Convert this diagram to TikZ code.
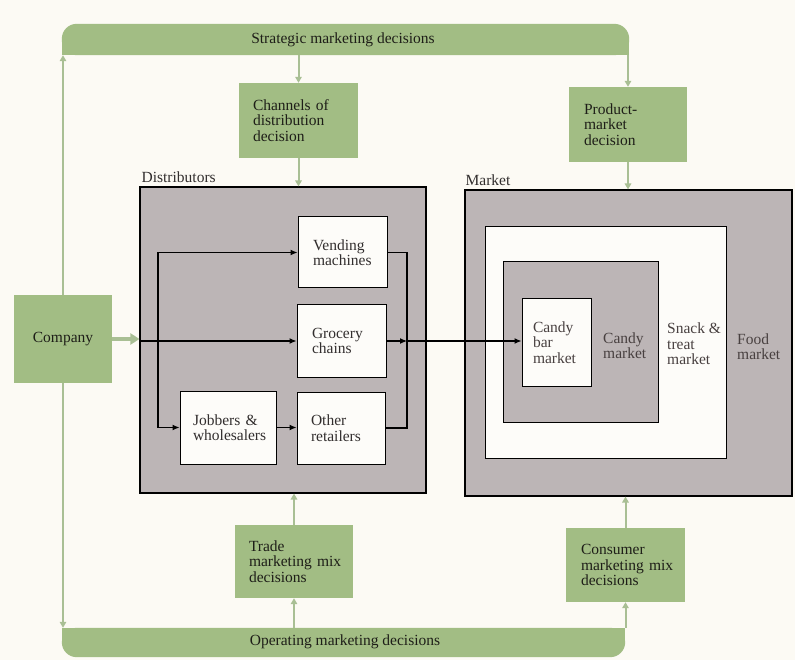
\documentclass[tikz,border=0pt]{standalone}
\usepackage{fontspec}
\setmainfont{Liberation Serif}
\usetikzlibrary{arrows.meta}
\definecolor{paper}{RGB}{252,250,244}
\definecolor{leaf}{RGB}{162,189,132}
\definecolor{leafline}{RGB}{169,191,148}
\definecolor{slate}{RGB}{188,181,182}
\definecolor{card}{RGB}{253,252,249}
\definecolor{ink}{RGB}{30,30,24}
\definecolor{greyink}{RGB}{50,46,46}
\definecolor{softink}{RGB}{72,64,64}
\newcommand\diagfont{\fontsize{15.5}{15.5}\selectfont\hyphenpenalty=10000 \exhyphenpenalty=10000 }
\begin{document}
\begin{tikzpicture}[x=1pt,y=-1pt,
  every node/.style={font=\diagfont},
  decbox/.style={fill=leaf, draw=none, text=ink, align=left,
    inner xsep=14pt, inner ysep=0pt},
  bar/.style={draw=none, text=ink, inner sep=0pt},
  region/.style={fill=slate, draw=black, line width=1.1pt, inner sep=0pt},
  hole/.style={fill=card, draw=black, line width=1pt, inner sep=0pt},
  outlet/.style={fill=card, draw=black, line width=1pt, text=greyink,
    align=left, inner ysep=0pt},
  mktlabel/.style={anchor=west, align=left, text=softink, inner sep=0pt},
  gline/.style={draw=leafline, line width=2pt,
    -{Triangle[length=6pt,width=6.5pt]}},
  flow/.style={draw=black, line width=1.1pt},
  flowtip/.style={flow, -{Latex[length=7pt,width=6pt]}}
]
% page
\fill[paper] (0,0) rectangle (795,660);
\useasboundingbox (0,0) rectangle (795,660);

% decision bars (rounded on the outer side only)
\node[bar, minimum width=567pt, minimum height=31pt] (strat) at (345.5,39.5) {};
\fill[leaf, rounded corners=15pt] (strat.south west) rectangle (strat.north east);
\fill[leaf] (strat.south west) rectangle (strat.east);
\node[bar] (strattext) at (343,40) {Strategic marketing decisions};

\node[bar, minimum width=563pt, minimum height=29pt] (oper) at (343.5,642.5) {};
\fill[leaf, rounded corners=15pt] (oper.south west) rectangle (oper.north east);
\fill[leaf] (oper.west) rectangle (oper.north east);
\node[bar] (opertext) at (345,642) {Operating marketing decisions};

% company
\node[fill=leaf, text=ink, minimum width=98pt, minimum height=88pt, inner sep=0pt]
  (company) at (63,339) {Company};

% decision boxes
\node[decbox, text width=91pt, minimum height=75pt] (chan) at (298.5,120.5)
  {Channels of\\distribution\\decision};
\node[decbox, text width=88pt, minimum height=75pt, inner xsep=15pt] (prod) at (628,124.5)
  {Product-\\market\\decision};
\node[decbox, text width=90pt, minimum height=73pt] (trade) at (294,561.5)
  {Trade\\\mbox{marketing mix}\\decisions};
\node[decbox, text width=89pt, minimum height=74pt, inner xsep=15pt] (cons) at (625.5,565)
  {Consumer\\\mbox{marketing mix}\\decisions};

% distributors
\node[region, minimum width=286pt, minimum height=306pt] (dist) at (283,340) {};
\node[anchor=south west, inner sep=0pt, text=greyink]
  (distlabel) at ([xshift=2pt,yshift=4pt]dist.north west) {Distributors};

\node[outlet, text width=59pt, inner xsep=15pt, minimum height=71pt] (vend) at (342.5,252.5)
  {Vending\\machines};
\node[outlet, text width=59pt, inner xsep=15pt, minimum height=72pt] (groc) at (341.5,341)
  {Grocery\\chains};
\node[outlet, text width=70pt, inner xsep=13pt, minimum height=73pt] (job) at (228,427.5)
  {Jobbers \&\\wholesalers};
\node[outlet, text width=60pt, inner xsep=14pt, minimum height=72pt] (oth) at (341,428)
  {Other\\retailers};

% market rings
\node[region, minimum width=327pt, minimum height=306pt] (market) at (628.5,343) {};
\node[anchor=south west, inner sep=0pt, text=greyink]
  (marketlabel) at ([xshift=1pt,yshift=4pt]market.north west) {Market};
\node[hole, minimum width=241pt, minimum height=231pt] (snack) at (605.5,342.5) {};
\node[region, line width=1pt, minimum width=155pt, minimum height=160pt] (candy) at (580.5,342) {};
\node[outlet, text=softink, text width=47pt, inner xsep=11pt, minimum height=87pt]
  (cbar) at (556.5,342.5) {Candy\\bar\\market};
\node[mktlabel] (candytext) at (603,345.5) {Candy\\market};
\node[mktlabel] (snacktext) at (667,344) {Snack \&\\treat\\market};
\node[mktlabel] (foodtext) at (737,346.5) {Food\\market};

% decision flow
\draw[gline] (company.north) -- (company.north |- strat.south);
\draw[gline] (company.south) -- (company.south |- oper.north);
\draw[gline] (chan.north |- strat.south) -- (chan.north);
\draw[gline] (chan.south) -- (chan.south |- dist.north);
\draw[gline] (prod.north |- strat.south) -- (prod.north);
\draw[gline] (prod.south) -- (prod.south |- market.north);
\draw[gline] (trade.south |- oper.north) -- (trade.south);
\draw[gline] (trade.north) -- (trade.north |- dist.south);
\draw[gline] (cons.south |- oper.north) -- (cons.south);
\draw[gline] (cons.north) -- (cons.north |- market.south);
\draw[draw=leafline, line width=4pt, -{Triangle[length=9pt,width=11pt]}]
  (company.east) -- (company.east -| dist.west);

% product flow through the channels
\coordinate (fork) at (158,341);
\coordinate (merge) at (407,341);
\draw[flowtip] (dist.west |- groc.west) -- (groc.west);
\draw[flow] (fork |- vend.west) -- (fork |- job.west);
\draw[flowtip] (fork |- vend.west) -- (vend.west);
\draw[flowtip] (fork |- job.west) -- (job.west);
\draw[flowtip] (job.east) -- (job.east -| oth.west);
\draw[flow] (vend.east) -| (merge) |- (oth.east);
\draw[flowtip] (groc.east) -- (merge);
\draw[flowtip] (merge) -- (merge -| cbar.west);
\end{tikzpicture}
\end{document}
